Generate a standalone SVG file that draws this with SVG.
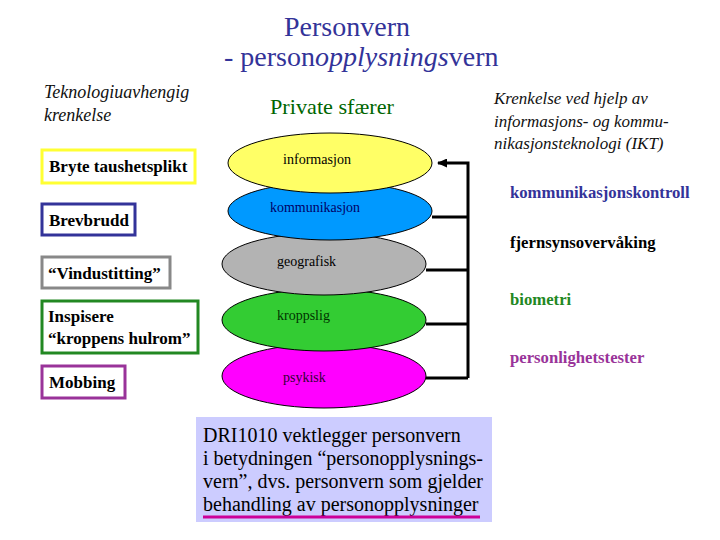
<svg xmlns="http://www.w3.org/2000/svg" width="720" height="540" viewBox="0 0 720 540">
<defs>
<style>
.box{fill:#fff;stroke-width:3}
.ell{stroke:#000;stroke-width:1}
.conn{fill:none;stroke:#000;stroke-width:3}
</style>
<marker id="ah" markerWidth="10" markerHeight="9" refX="9" refY="4.5" orient="auto" markerUnits="userSpaceOnUse">
<path d="M0,0 L10,4.5 L0,9 Z" fill="#000"/>
</marker>
</defs>
<rect width="720" height="540" fill="#fff"/>

<g id="title" font-family="'Times New Roman','Liberation Serif',serif" fill="#333399" font-size="28">
<text x="347" y="36" text-anchor="middle">Personvern</text>
<text x="224" y="66">- person<tspan font-style="italic">opplysnings</tspan>vern</text>
</g>

<g id="left-heading" font-family="'Times New Roman','Liberation Serif',serif" font-style="italic" font-size="18" fill="#111">
<text x="44" y="98">Teknologiuavhengig</text>
<text x="44" y="121">krenkelse</text>
</g>

<g id="private-heading" font-family="'Times New Roman','Liberation Serif',serif">
<text x="270" y="114" font-size="21" fill="#006600" textLength="124" lengthAdjust="spacingAndGlyphs">Private sfærer</text>
</g>

<g id="right-heading" font-family="'Times New Roman','Liberation Serif',serif" font-style="italic" font-size="17" fill="#111">
<text x="494" y="104">Krenkelse ved hjelp av</text>
<text x="494" y="127">informasjons- og kommu-</text>
<text x="494" y="149">nikasjonsteknologi (IKT)</text>
</g>

<g font-family="'Times New Roman','Liberation Serif',serif" font-weight="bold" font-size="17" fill="#000">
<g id="box-taushet">
<rect class="box" x="42" y="150" width="153" height="33" stroke="#ffff33"/>
<text x="49" y="172">Bryte taushetsplikt</text>
</g>
<g id="box-brev">
<rect class="box" x="42" y="204" width="93" height="31" stroke="#333399"/>
<text x="49" y="226">Brevbrudd</text>
</g>
<g id="box-vindu">
<rect class="box" x="42" y="257" width="128" height="31" stroke="#888888"/>
<text x="48" y="279">“Vindustitting”</text>
</g>
<g id="box-inspisere">
<rect class="box" x="42" y="301" width="156" height="52" stroke="#228822"/>
<text x="48" y="322">Inspisere</text>
<text x="48" y="344">“kroppens hulrom”</text>
</g>
<g id="box-mobbing">
<rect class="box" x="42" y="366" width="83" height="32" stroke="#993399"/>
<text x="49" y="388">Mobbing</text>
</g>
</g>

<g font-family="'Times New Roman','Liberation Serif',serif" font-size="14">
<g id="ell-psykisk">
<ellipse class="ell" cx="324" cy="376" rx="102" ry="32" fill="#ff00ff"/>
<text x="283" y="382" fill="#330033">psykisk</text>
</g>
<g id="ell-kroppslig">
<ellipse class="ell" cx="324" cy="320" rx="102" ry="31" fill="#33cc33"/>
<text x="277" y="320" fill="#003300">kroppslig</text>
</g>
<g id="ell-geografisk">
<ellipse class="ell" cx="324" cy="264" rx="102" ry="31" fill="#b3b3b3"/>
<text x="277" y="266" fill="#000">geografisk</text>
</g>
<g id="ell-kommunikasjon">
<ellipse class="ell" cx="330" cy="211" rx="102" ry="29" fill="#0099ff"/>
<text x="270" y="212" fill="#000066" textLength="90" lengthAdjust="spacingAndGlyphs">kommunikasjon</text>
</g>
<g id="ell-informasjon">
<ellipse class="ell" cx="330" cy="163" rx="102" ry="30" fill="#ffff66"/>
<text x="283" y="164" fill="#000" textLength="68" lengthAdjust="spacingAndGlyphs">informasjon</text>
</g>
</g>

<g id="connectors">
<path class="conn" d="M468,378 L468,163 L438,163" marker-end="url(#ah)"/>
<path class="conn" d="M432,217 L468,217"/>
<path class="conn" d="M426,270 L468,270"/>
<path class="conn" d="M426,324 L468,324"/>
<path class="conn" d="M426,378 L468,378"/>
</g>

<g id="ikt-list" font-family="'Times New Roman','Liberation Serif',serif" font-weight="bold" font-size="16.7">
<text x="510" y="198" fill="#333399">kommunikasjonskontroll</text>
<text x="510" y="248" fill="#000">fjernsynsovervåking</text>
<text x="510" y="305" fill="#228822">biometri</text>
<text x="510" y="363" fill="#993399">personlighetstester</text>
</g>

<g id="dri-box">
<rect x="196" y="417" width="296" height="105" fill="#ccccff"/>
<g font-family="'Times New Roman','Liberation Serif',serif" font-size="20" fill="#000">
<text x="203" y="442">DRI1010 vektlegger personvern</text>
<text x="203" y="465">i betydningen “personopplysnings-</text>
<text x="203" y="488">vern”, dvs. personvern som gjelder</text>
<text x="203" y="511">behandling av personopplysninger</text>
</g>
<line x1="203" y1="517" x2="480" y2="517" stroke="#cc0099" stroke-width="3"/>
</g>
</svg>
